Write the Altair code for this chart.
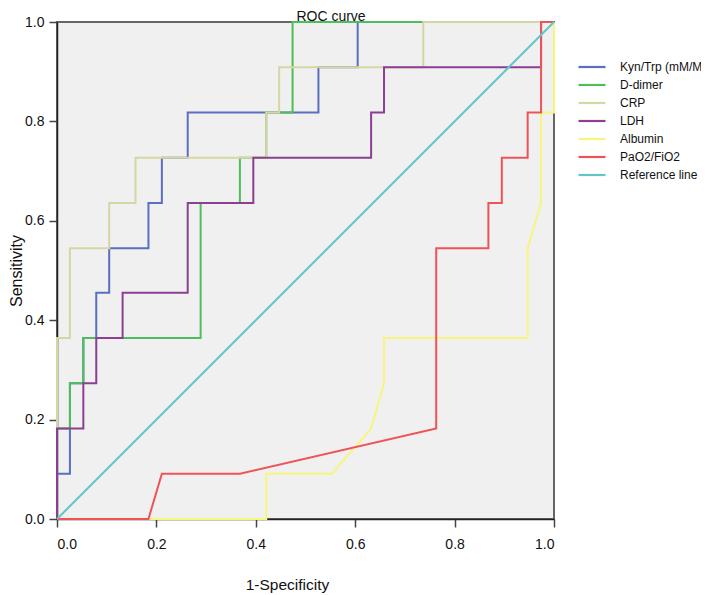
import altair as alt
import pandas as pd

series = ["Kyn/Trp (mM/M)", "D-dimer", "CRP", "LDH", "Albumin", "PaO2/FiO2", "Reference line"]
colors = ["#5a6fc0", "#4cbf5a", "#d6d6a4", "#8a3f92", "#f7f57e", "#ee5357", "#5ec8c8"]
chart_title = ["ROC curve"]

kyn_x = [0, 0, 0.026, 0.026, 0.053, 0.053, 0.079, 0.079, 0.105, 0.105, 0.184, 0.184, 0.211, 0.211, 0.263, 0.263, 0.526, 0.526, 0.605, 0.605, 1.0]
kyn_y = [0, 0.091, 0.091, 0.273, 0.273, 0.364, 0.364, 0.455, 0.455, 0.545, 0.545, 0.636, 0.636, 0.727, 0.727, 0.818, 0.818, 0.909, 0.909, 1.0, 1.0]

dd_x = [0, 0, 0.026, 0.026, 0.053, 0.053, 0.289, 0.289, 0.368, 0.368, 0.421, 0.421, 0.474, 0.474, 1.0]
dd_y = [0, 0.182, 0.182, 0.273, 0.273, 0.364, 0.364, 0.636, 0.636, 0.727, 0.727, 0.818, 0.818, 1.0, 1.0]

crp_x = [0, 0, 0.026, 0.026, 0.105, 0.105, 0.158, 0.158, 0.421, 0.421, 0.447, 0.447, 0.737, 0.737, 1.0]
crp_y = [0, 0.364, 0.364, 0.545, 0.545, 0.636, 0.636, 0.727, 0.727, 0.818, 0.818, 0.909, 0.909, 1.0, 1.0]

ldh_x = [0, 0, 0.053, 0.053, 0.079, 0.079, 0.132, 0.132, 0.263, 0.263, 0.395, 0.395, 0.632, 0.632, 0.658, 0.658, 0.974, 0.974, 1.0]
ldh_y = [0, 0.182, 0.182, 0.273, 0.273, 0.364, 0.364, 0.455, 0.455, 0.636, 0.636, 0.727, 0.727, 0.818, 0.818, 0.909, 0.909, 1.0, 1.0]

alb_x = [0, 0.421, 0.421, 0.553, 0.600, 0.632, 0.658, 0.658, 0.947, 0.947, 0.974, 0.974, 1.0, 1.0]
alb_y = [0, 0, 0.091, 0.091, 0.145, 0.182, 0.273, 0.364, 0.364, 0.545, 0.636, 0.818, 0.818, 1.0]

pf_x = [0, 0.184, 0.211, 0.368, 0.763, 0.763, 0.868, 0.868, 0.895, 0.895, 0.947, 0.947, 0.974, 0.974, 1.0]
pf_y = [0, 0, 0.091, 0.091, 0.182, 0.545, 0.545, 0.636, 0.636, 0.727, 0.727, 0.818, 0.818, 1.0, 1.0]

ref_x = [0, 1.0]
ref_y = [0, 1.0]

xs = [kyn_x, dd_x, crp_x, ldh_x, alb_x, pf_x, ref_x]
ys = [kyn_y, dd_y, crp_y, ldh_y, alb_y, pf_y, ref_y]

frames = []
for name, x, y in zip(series, xs, ys):
    frames.append(pd.DataFrame({"series": name, "x": x, "y": y, "i": range(len(x))}))

font = "Liberation Sans"
color_scale = alt.Scale(domain=series, range=colors)

layers = []
for k, df in enumerate(frames):
    enc = dict(
        x=alt.X("x:Q", scale=alt.Scale(domain=[0, 1], nice=False),
                axis=alt.Axis(values=[0, 0.2, 0.4, 0.6, 0.8, 1.0], format=".1f",
                              title="1-Specificity", titleX=230, titleFontSize=15.5)),
        y=alt.Y("y:Q", scale=alt.Scale(domain=[0, 1], nice=False),
                axis=alt.Axis(values=[0, 0.2, 0.4, 0.6, 0.8, 1.0], format=".1f",
                              title="Sensitivity", titleFontSize=16)),
        color=alt.Color("series:N", scale=color_scale,
                        legend=alt.Legend(title=None, orient="none",
                                          legendX=527, legendY=37,
                                          symbolType="M-2,0H2", symbolSize=182,
                                          symbolStrokeWidth=2.2,
                                          labelOffset=20, rowPadding=4,
                                          labelFontSize=12, labelFont=font,
                                          labelColor="#111", labelLimit=300,
                                          padding=0)),
        order="i:Q",
    )
    layers.append(alt.Chart(df).mark_line(strokeWidth=2, interpolate="linear").encode(**enc))

title_layer = alt.Chart(pd.DataFrame({"t": chart_title})).mark_text(
    font=font, fontSize=14, color="#111", align="center", baseline="alphabetic"
).encode(text="t:N", x=alt.value(274), y=alt.value(-1))
layers.append(title_layer)

chart = alt.layer(*layers).properties(
    width=497, height=497,
    autosize=alt.AutoSizeParams(type="none"),
    padding={"left": 49, "top": 14, "right": 147, "bottom": 74},
).configure_view(
    fill="#f0f0f0", stroke="#666", strokeWidth=2
).configure_axis(
    grid=False, domainColor="#222", domainWidth=1.5, tickColor="#444", tickWidth=1.5,
    tickSize=8, labelFont=font, labelFontSize=14, labelColor="#111",
    titleFont=font, titleFontWeight="normal", titleColor="#111",
).configure_axisX(
    labelPadding=10, titlePadding=26
).configure_axisY(
    labelPadding=5, titlePadding=0
)

chart.save("out.html", embed_options={"renderer": "svg", "actions": False})
